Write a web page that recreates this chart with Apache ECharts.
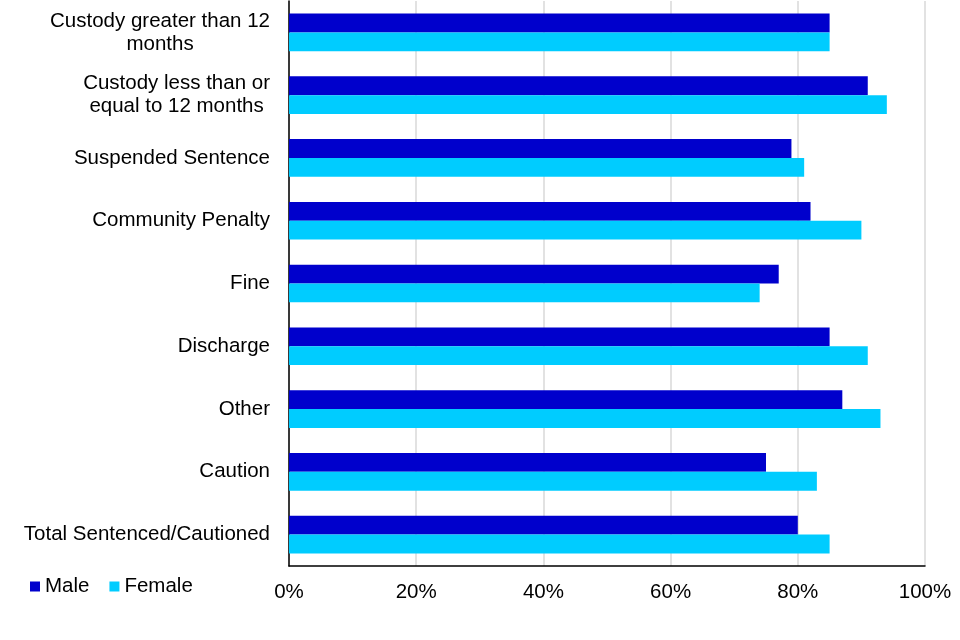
<!DOCTYPE html>
<html>
<head>
<meta charset="utf-8">
<script src="https://cdn.jsdelivr.net/npm/echarts@6/dist/echarts.min.js"></script>
<style>html,body{margin:0;padding:0;background:#fff}#c{width:960px;height:640px}</style>
</head>
<body>
<div id="c"></div>
<script>
// Categories listed bottom to top (ECharts category y axis runs upward)
const categories = [
  'Total Sentenced/Cautioned',
  'Caution',
  'Other',
  'Discharge',
  'Fine',
  'Community Penalty',
  'Suspended Sentence',
  'Custody less than or\nequal to 12 months',
  'Custody greater than 12\nmonths'
];
const maleValues   = [80, 75, 87, 85, 77, 82, 79, 91, 85];
const femaleValues = [85, 83, 93, 91, 74, 90, 81, 94, 85];
const xTicks = [0, 20, 40, 60, 80, 100];

const chart = echarts.init(document.getElementById('c'), null, {renderer: 'canvas'});
const font = 'Liberation Sans, Arial, sans-serif';
const fs = 20.5;
chart.setOption({
  animation: false,
  textStyle: {fontFamily: font},
  legend: {
    left: 25, top: 571,
    itemWidth: 10, itemHeight: 10, itemGap: 20,
    icon: 'rect',
    textStyle: {fontSize: fs, color: '#000', fontFamily: font, padding: [0, 0, 0, 0]},
    data: ['Male', 'Female']
  },
  grid: {left: 289, right: 35, top: 1, bottom: 74, containLabel: false},
  xAxis: {
    type: 'value', min: 0, max: 100, interval: 20,
    axisLine: {show: true, lineStyle: {color: '#000', width: 1.5}},
    axisTick: {show: false},
    splitLine: {show: true, lineStyle: {color: '#d9d9d9', width: 1.5}},
    axisLabel: {
      fontSize: fs, color: '#000', fontFamily: font, margin: 16,
      formatter: v => xTicks.indexOf(v) >= 0 ? v + '%' : ''
    }
  },
  yAxis: {
    type: 'category', data: categories,
    axisLine: {show: true, lineStyle: {color: '#000', width: 1.5}},
    axisTick: {show: false},
    axisLabel: {
      fontSize: fs, color: '#000', fontFamily: font, margin: 19, lineHeight: 23,
      formatter: v => v.split('\n').map(s => '{c|' + s + '}').join('\n'),
      rich: {c: {align: 'center', fontSize: fs, lineHeight: 23, fontFamily: font, color: '#000'}}
    }
  },
  series: [
    {name: 'Male', type: 'bar', data: maleValues, itemStyle: {color: '#0000CC'}, barGap: '0%', barCategoryGap: '40%'},
    {name: 'Female', type: 'bar', data: femaleValues, itemStyle: {color: '#00CCFF'}, barGap: '0%', barCategoryGap: '40%'}
  ]
});
</script>
</body>
</html>
